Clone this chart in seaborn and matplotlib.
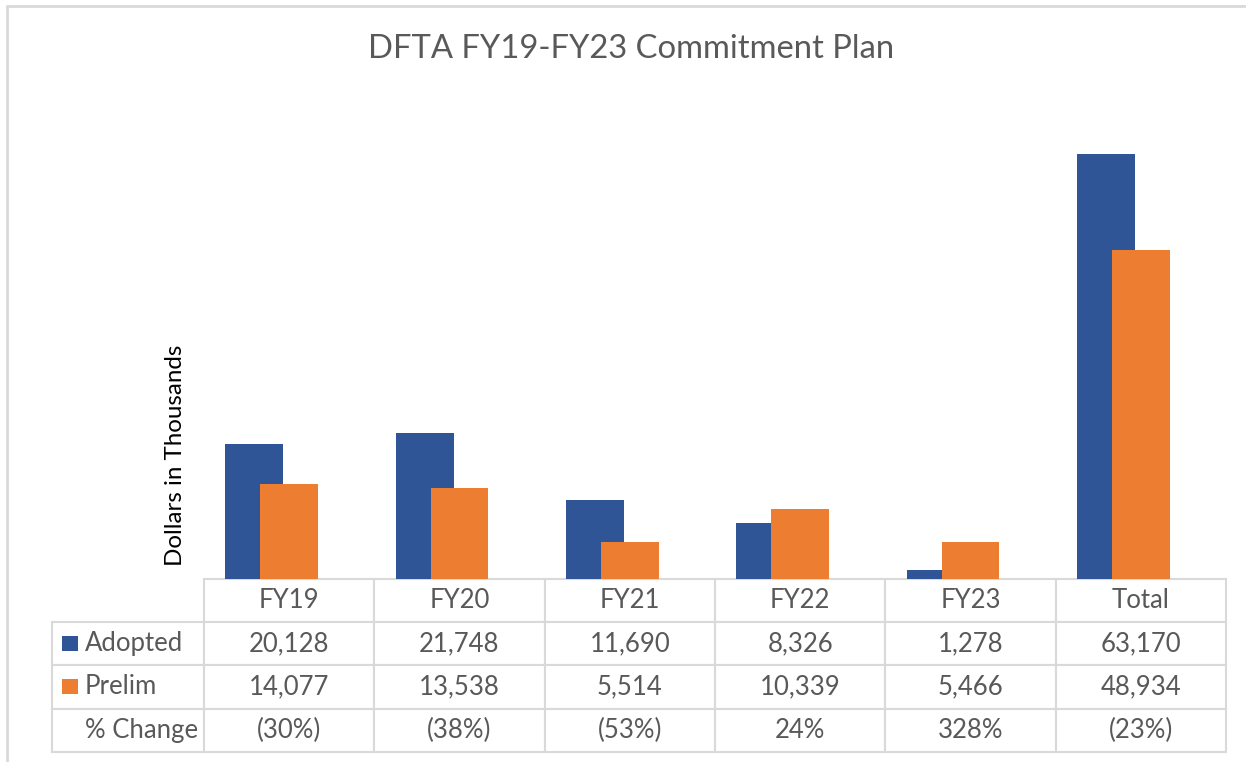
import matplotlib
matplotlib.use("Agg")
import matplotlib.pyplot as plt
from matplotlib.patches import Rectangle
from matplotlib.lines import Line2D
import numpy as np
import pandas as pd
import seaborn as sns

# data (dollars in thousands)
categories = ["FY19", "FY20", "FY21", "FY22", "FY23", "Total"]
adopted = [20128, 21748, 11690, 8326, 1278, 63170]
prelim = [14077, 13538, 5514, 10339, 5466, 48934]
series_names = ["Adopted", "Prelim"]
change_label = "% Change"
title = "DFTA FY19-FY23 Commitment Plan"
y_label = "Dollars in Thousands"

BLUE = "#2F5597"
ORANGE = "#ED7D31"
GRID = "#D9D9D9"
TEXT = "#595959"

sns.set_theme(style="white")
plt.rcParams["font.family"] = ["Lato", "DejaVu Sans"]

W, H = 1246, 762
fig = plt.figure(figsize=(W / 100, H / 100), dpi=100)

# plot area in pixels
ax_l, ax_r, ax_base, ax_top = 204, 1226, 579, 108
ax = fig.add_axes([ax_l / W, 1 - ax_base / H, (ax_r - ax_l) / W, (ax_base - ax_top) / H])

pos = np.arange(len(categories))
df = pd.DataFrame({"pos": pos, "Adopted": adopted, "Prelim": prelim})

# Excel-style overlapping bars: blue shifted left, orange on top
sns.barplot(data=df.assign(x=df["pos"] - 0.205), x="x", y="Adopted", native_scale=True,
            width=0.34, color=BLUE, saturation=1, linewidth=0, errorbar=None, ax=ax)
sns.barplot(data=df.assign(x=df["pos"] - 0.0), x="x", y="Prelim", native_scale=True,
            width=0.34, color=ORANGE, saturation=1, linewidth=0, errorbar=None, ax=ax)

ax.set_xlim(-0.5, len(categories) - 0.5)
ax.set_ylim(0, 70000)
ax.set_xticks([])
ax.set_yticks([])
ax.set_xlabel("")
ax.set_ylabel("")
for s in ax.spines.values():
    s.set_visible(False)

# data table under the bars
def pct(a, p):
    v = round((p - a) / a * 100)
    return f"({abs(v)}%)" if v < 0 else f"{v}%"

cell_text = [[""] + categories,
             [series_names[0]] + [f"{v:,}" for v in adopted],
             [series_names[1]] + [f"{v:,}" for v in prelim],
             [change_label] + [pct(a, p) for a, p in zip(adopted, prelim)]]

ax_w = ax_r - ax_l
ax_h = ax_base - ax_top
lab_l = 52
tbl_h = 172.7
tbl = ax.table(cellText=cell_text, cellLoc="center",
               bbox=[(lab_l - ax_l) / ax_w, -tbl_h / ax_h, (ax_r - lab_l) / ax_w, tbl_h / ax_h])
tbl.auto_set_font_size(False)
tbl.set_fontsize(18.5)
for (r, c), cell in tbl.get_celld().items():
    cell.set_edgecolor(GRID)
    cell.set_linewidth(1.5)
    cell.get_text().set_color(TEXT)
    cell.set_width(152 if c == 0 else (ax_w / len(categories)))
    if c == 0:
        cell.set_text_props(ha="left")
        cell.PAD = 33 / 152
        if r == 0:
            cell.visible_edges = "open"

# legend keys in the row labels
row_h = tbl_h / 4
for i, col in enumerate([BLUE, ORANGE]):
    cy = ax_base + row_h * (i + 1.5)
    fig.add_artist(Rectangle((62 / W, 1 - (cy + 7.5) / H), 16 / W, 15 / H,
                             transform=fig.transFigure, color=col, lw=0))

fig.text(631 / W, 1 - 49 / H, title, ha="center", va="center", fontsize=23.6, color=TEXT)
fig.text(175 / W, 1 - 455 / H, y_label, ha="center", va="center", rotation=90,
         fontsize=17.4, color="black")

# chart frame (left and top edges visible)
fig.add_artist(Line2D([7 / W, 7 / W], [0, 1 - 6 / H], color=GRID, lw=2, transform=fig.transFigure))
fig.add_artist(Line2D([7 / W, 1], [1 - 6 / H, 1 - 6 / H], color=GRID, lw=2, transform=fig.transFigure))

fig.savefig("out.png", dpi=100)
